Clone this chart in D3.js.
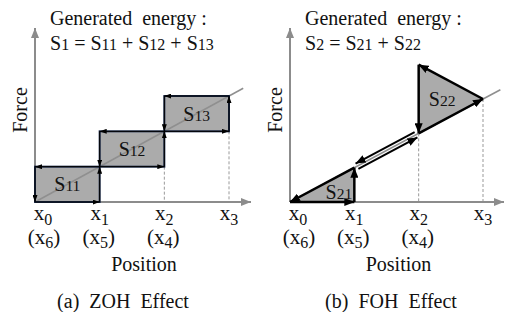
<!DOCTYPE html>
<html><head><meta charset="utf-8">
<script src="https://cdn.jsdelivr.net/npm/d3@7"></script>
<style>
html,body{margin:0;padding:0;background:#fff;}
svg text{fill:#111;white-space:pre;}
</style></head>
<body><svg id="c" width="506" height="312" font-family="Liberation Serif, DejaVu Serif, serif"></svg>
<script>
// ---- data ----
const positions = [0, 1, 2, 3];
const posLabels = ["0", "1", "2", "3"];          // subscripts of x_i
const returnLabels = ["6", "5", "4"];             // subscripts of (x_i) on the way back
const zohForce = [0, 1, 2, 3];                    // force held at each step (ZOH)
const zohAreas = ["11", "12", "13"];
const fohForce = [0, 1, 2, 3];                    // force on the characteristic line
const fohPeak = 4;                                // force peak of S22 at x2
const fohAreas = ["21", "22"];
const titleLines = [["Generated  energy :"], ["S1 = S11 + S12 + S13", "S2 = S21 + S22"]];
const captions = ["(a)  ZOH  Effect", "(b)  FOH  Effect"];

const FONT = "Liberation Serif, DejaVu Serif, serif";
const svg = d3.select("#c");
const defs = svg.append("defs");
function marker(id, color, w, h) {
  defs.append("marker").attr("id", id).attr("viewBox", `0 0 ${w} ${h}`)
    .attr("refX", w).attr("refY", h / 2).attr("markerWidth", w).attr("markerHeight", h)
    .attr("markerUnits", "userSpaceOnUse").attr("orient", "auto")
    .append("path").attr("d", `M0,0L${w},${h/2}L0,${h}Z`).attr("fill", color);
}
marker("axisArrow", "#8c8c8c", 10, 8);
marker("thinArrow", "#000", 7, 5);
marker("boldArrow", "#000", 10, 8);

const AX = "#8c8c8c", FILL = "#ababab", NAVY = "#1d2c4c";

function txt(g, x, y, size) {
  return g.append("text").attr("x", x).attr("y", y).attr("font-size", size).attr("font-family", FONT);
}
function sLabel(g, x, y, sub, size) {
  const t = txt(g, x, y, size).attr("text-anchor", "middle").attr("fill", "#222");
  t.append("tspan").text("S");
  t.append("tspan").attr("font-size", size * 0.78).text(sub);
}
function richTitle(g, x, y, str) {
  const t = txt(g, x, y, 20);
  const parts = str.split(/(S\d+)/).filter(s => s.length);
  parts.forEach(p => {
    const m = p.match(/^S(\d+)$/);
    if (m) { t.append("tspan").text("S"); t.append("tspan").attr("font-size", 16).text(m[1]); }
    else t.append("tspan").text(p);
  });
}

function panel(cfg) {
  const g = svg.append("g");
  const x = d3.scaleLinear().domain([0, 3]).range(cfg.xr);
  const y = d3.scaleLinear().domain([0, 3]).range(cfg.yr);
  cfg.draw(g, x, y);
  g.append("line").attr("x1", x(0)).attr("x2", cfg.xEnd).attr("y1", y(0)).attr("y2", y(0))
    .attr("stroke", AX).attr("stroke-width", 2).attr("marker-end", "url(#axisArrow)");
  g.append("line").attr("x1", x(0)).attr("x2", x(0)).attr("y1", y(0)).attr("y2", 28)
    .attr("stroke", AX).attr("stroke-width", 2).attr("marker-end", "url(#axisArrow)");
  cfg.front(g, x, y);
  positions.forEach((p, i) => {
    const t = txt(g, x(p) + (i === 0 ? 8 : 0), 220, 21).attr("text-anchor", "middle");
    t.append("tspan").text("x");
    t.append("tspan").attr("font-size", 16).attr("dy", 5).text(posLabels[i]);
    if (i < returnLabels.length) {
      const r = txt(g, x(p) + (i === 0 ? 9 : -1), 244, 21).attr("text-anchor", "middle");
      r.append("tspan").text("(x");
      r.append("tspan").attr("font-size", 16).attr("dy", 4).text(returnLabels[i]);
      r.append("tspan").attr("dy", -4).text(")");
    }
  });
  txt(g, (x(1) + x(2)) / 2 + 12, 271, 20).attr("text-anchor", "middle").text("Position");
  g.append("text").attr("font-family", FONT).attr("font-size", 20)
    .attr("transform", `translate(${x(0) - 8},110) rotate(-90)`)
    .attr("text-anchor", "middle").text("Force");
  txt(g, x(0) + 15, 25, 20).text(titleLines[0][0]);
  richTitle(g, x(0) + 15, 50, titleLines[1][cfg.idx]);
  txt(g, cfg.capX, 308, 20).attr("text-anchor", "middle").text(captions[cfg.idx]);
}

// ---- (a) ZOH ----
panel({
  idx: 0, xr: [35, 229], yr: [202, 96], xEnd: 251, capX: 123,
  draw(g, x, y) {
    for (let i = 0; i < 3; i++) {
      g.append("rect").attr("x", x(positions[i])).attr("y", y(zohForce[i + 1]))
        .attr("width", x(positions[i + 1]) - x(positions[i]))
        .attr("height", y(zohForce[i]) - y(zohForce[i + 1]))
        .attr("fill", FILL);
    }
    [2, 3].forEach(i => g.append("line").attr("x1", x(positions[i])).attr("x2", x(positions[i]))
      .attr("y1", y(zohForce[i - 1])).attr("y2", y(0)).attr("stroke", "#999")
      .attr("stroke-width", 1).attr("stroke-dasharray", "3,2"));
    g.append("line").attr("x1", x(0)).attr("y1", y(0)).attr("x2", x(3.22)).attr("y2", y(3.22))
      .attr("stroke", "#8f8f8f").attr("stroke-width", 1.5);
  },
  front(g, x, y) {
    for (let i = 0; i < 3; i++) {
      g.append("rect").attr("x", x(positions[i])).attr("y", y(zohForce[i + 1]))
        .attr("width", x(positions[i + 1]) - x(positions[i]))
        .attr("height", y(zohForce[i]) - y(zohForce[i + 1]))
        .attr("fill", "none").attr("stroke", NAVY).attr("stroke-width", 2);
      sLabel(g, (x(positions[i]) + x(positions[i + 1])) / 2,
        (y(zohForce[i]) + y(zohForce[i + 1])) / 2 + 7, zohAreas[i], 20);
    }
    const pts = [];
    for (let i = 0; i < 3; i++) { pts.push([positions[i], zohForce[i]]); pts.push([positions[i + 1], zohForce[i]]); }
    pts.push([3, 3]);
    for (let i = 3; i > 0; i--) { pts.push([positions[i - 1], zohForce[i]]); pts.push([positions[i - 1], zohForce[i - 1]]); }
    for (let k = 0; k < pts.length - 1; k++) {
      const a = pts[k], b = pts[k + 1];
      g.append("line").attr("x1", x(a[0])).attr("y1", y(a[1]))
        .attr("x2", x(b[0])).attr("y2", y(b[1]))
        .attr("stroke", "#000").attr("stroke-width", 1).attr("marker-end", "url(#thinArrow)");
    }
  }
});

// ---- (b) FOH ----
panel({
  idx: 1, xr: [290, 483], yr: [202, 99], xEnd: 504, capX: 391,
  draw(g, x, y) {
    g.append("path").attr("d", d3.line()([[x(0), y(0)], [x(1), y(0)], [x(1), y(fohForce[1])]]))
      .attr("fill", FILL);
    g.append("path").attr("d", d3.line()([[x(2), y(fohForce[2])], [x(3), y(fohForce[3])], [x(2), y(fohPeak)]]))
      .attr("fill", FILL);
    [2, 3].forEach(i => g.append("line").attr("x1", x(positions[i])).attr("x2", x(positions[i]))
      .attr("y1", y(fohForce[i])).attr("y2", y(0)).attr("stroke", "#999")
      .attr("stroke-width", 1).attr("stroke-dasharray", "3,2"));
    g.append("line").attr("x1", x(0)).attr("y1", y(0)).attr("x2", x(3.27)).attr("y2", y(3.27))
      .attr("stroke", "#8f8f8f").attr("stroke-width", 1.5);
  },
  front(g, x, y) {
    const P = (px, f) => [x(px), y(f)];
    const segs = [
      [P(0, 0), P(1, 0), 0],
      [P(1, 0), P(1, fohForce[1]), 0],
      [P(1, fohForce[1]), P(2, fohForce[2]), 3],
      [P(2, fohForce[2]), P(3, fohForce[3]), 0],
      [P(3, fohForce[3]), P(2, fohPeak), 0],
      [P(2, fohPeak), P(2, fohForce[2]), 0],
      [P(2, fohForce[2]), P(1, fohForce[1]), 3],
      [P(1, fohForce[1]), P(0, 0), 0]
    ];
    segs.forEach(([a, b, off]) => {
      const dx = b[0] - a[0], dy = b[1] - a[1], L = Math.hypot(dx, dy);
      const nx = -dy / L * off, ny = dx / L * off;
      const shrink = off ? 3 : 0;
      g.append("line")
        .attr("x1", a[0] + nx + dx / L * shrink).attr("y1", a[1] + ny + dy / L * shrink)
        .attr("x2", b[0] + nx - dx / L * shrink).attr("y2", b[1] + ny - dy / L * shrink)
        .attr("stroke", "#000").attr("stroke-width", off ? 2 : 2.5)
        .attr("marker-end", "url(#boldArrow)");
    });
    sLabel(g, (x(0) + 2 * x(1)) / 3 + 6, (2 * y(0) + y(fohForce[1])) / 3 + 8, fohAreas[0], 20);
    sLabel(g, (2 * x(2) + x(3)) / 3 + 2, (y(fohForce[2]) + y(fohForce[3]) + y(fohPeak)) / 3 + 7, fohAreas[1], 20);
  }
});
</script></body></html>
